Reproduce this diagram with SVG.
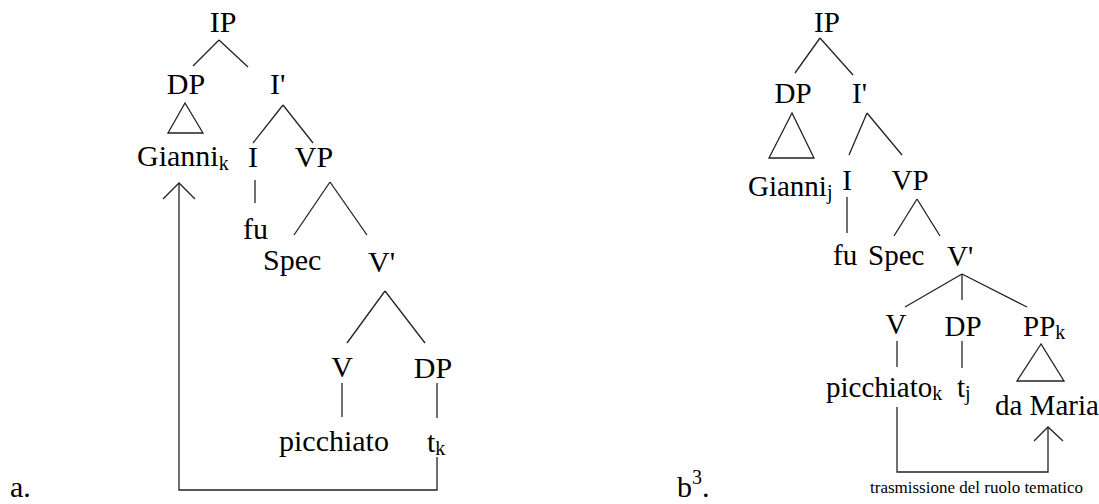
<svg xmlns="http://www.w3.org/2000/svg" width="1099" height="504" viewBox="0 0 1099 504">
<style>
text{font-family:"Liberation Serif","Times New Roman",serif;fill:#000}
.L{font-size:30px}
.R{font-size:29px}
.s{font-size:20px}
.m{text-anchor:middle}
line,polyline,polygon{stroke:#222;stroke-width:1.3;fill:none}
.small{font-size:17px}
</style>
<rect width="1099" height="504" fill="#fff"/>
<g id="treeA">
  <g id="a-IP"><text class="L m" x="223" y="32">IP</text></g>
  <g id="a-DP"><text class="L m" x="186" y="94">DP</text></g>
  <g id="a-Ibar"><text class="L" x="270" y="94">I'</text></g>
  <g id="a-Gianni"><text class="L" x="137" y="166">Gianni<tspan class="s" dy="4">k</tspan></text></g>
  <g id="a-I"><text class="L m" x="253" y="167">I</text></g>
  <g id="a-VP"><text class="L m" x="314" y="167">VP</text></g>
  <g id="a-fu"><text class="L" x="243" y="239">fu</text></g>
  <g id="a-Spec"><text class="L" x="263" y="270">Spec</text></g>
  <g id="a-Vbar"><text class="L" x="368" y="272">V'</text></g>
  <g id="a-V"><text class="L m" x="342" y="377">V</text></g>
  <g id="a-DP2"><text class="L m" x="433" y="378">DP</text></g>
  <g id="a-picchiato"><text class="L" x="279" y="451">picchiato</text></g>
  <g id="a-t"><text class="L" x="427" y="452">t<tspan class="s" dy="3">k</tspan></text></g>
  <g id="a-label"><text class="L" x="10" y="497">a.</text></g>
</g>
<g id="treeB">
  <g id="b-IP"><text class="R m" x="827" y="32">IP</text></g>
  <g id="b-DP"><text class="R m" x="793" y="103">DP</text></g>
  <g id="b-Ibar"><text class="R" x="852" y="103">I'</text></g>
  <g id="b-Gianni"><text class="R" x="748" y="196">Gianni<tspan class="s" dy="3">j</tspan></text></g>
  <g id="b-I"><text class="R m" x="847" y="190">I</text></g>
  <g id="b-VP"><text class="R m" x="910" y="190">VP</text></g>
  <g id="b-fu"><text class="R" x="833" y="265">fu</text></g>
  <g id="b-Spec"><text class="R" x="868" y="265">Spec</text></g>
  <g id="b-Vbar"><text class="R" x="947" y="266">V'</text></g>
  <g id="b-V"><text class="R m" x="896" y="334">V</text></g>
  <g id="b-DP2"><text class="R m" x="963" y="336">DP</text></g>
  <g id="b-PP"><text class="R" x="1023" y="336">PP<tspan class="s" dy="3">k</tspan></text></g>
  <g id="b-picchiato"><text class="R" x="826" y="397">picchiato<tspan class="s" dy="3">k</tspan></text></g>
  <g id="b-t"><text class="R" x="957" y="397">t<tspan class="s" dy="3">j</tspan></text></g>
  <g id="b-daMaria"><text class="R" x="995" y="415">da Maria</text></g>
  <g id="b-caption"><text class="small" x="870" y="493">trasmissione del ruolo tematico</text></g>
  <g id="b-label"><text class="L" x="677" y="497">b<tspan class="s" dy="-13">3</tspan><tspan dy="13">.</tspan></text></g>
</g>
<g id="connectors">
  <line x1="219" y1="40" x2="193" y2="66"/>
  <line x1="219" y1="40" x2="248" y2="67"/>
  <polygon points="185,103 168,133 203,133"/>
  <line x1="283" y1="105" x2="253" y2="143"/>
  <line x1="283" y1="105" x2="313" y2="143"/>
  <line x1="255" y1="180" x2="255" y2="203"/>
  <line x1="330" y1="182" x2="294" y2="235"/>
  <line x1="330" y1="182" x2="367" y2="235"/>
  <line x1="385" y1="291" x2="347" y2="343"/>
  <line x1="385" y1="291" x2="425" y2="343"/>
  <line x1="342" y1="383" x2="342" y2="417"/>
  <line x1="437" y1="383" x2="437" y2="418"/>
  <polyline points="437,457 437,490 179,490 179,183"/>
  <polyline points="163,199 179,183 195,199"/>

  <line x1="820" y1="38" x2="795" y2="73"/>
  <line x1="820" y1="38" x2="853" y2="75"/>
  <polygon points="792,113 769,158 814,158"/>
  <line x1="867" y1="113" x2="849" y2="155"/>
  <line x1="867" y1="113" x2="902" y2="155"/>
  <line x1="847" y1="197" x2="847" y2="233"/>
  <line x1="917" y1="199" x2="894" y2="236"/>
  <line x1="917" y1="199" x2="940" y2="236"/>
  <line x1="962" y1="274" x2="905" y2="307"/>
  <line x1="962" y1="274" x2="962" y2="300"/>
  <line x1="962" y1="274" x2="1027" y2="307"/>
  <line x1="897" y1="341" x2="897" y2="367"/>
  <line x1="962" y1="341" x2="962" y2="368"/>
  <polygon points="1041,344 1017,381 1064,381"/>
  <polyline points="897,407 897,472 1048,472 1048,427"/>
  <polyline points="1034,441 1048,427 1063,441"/>
</g>
</svg>
